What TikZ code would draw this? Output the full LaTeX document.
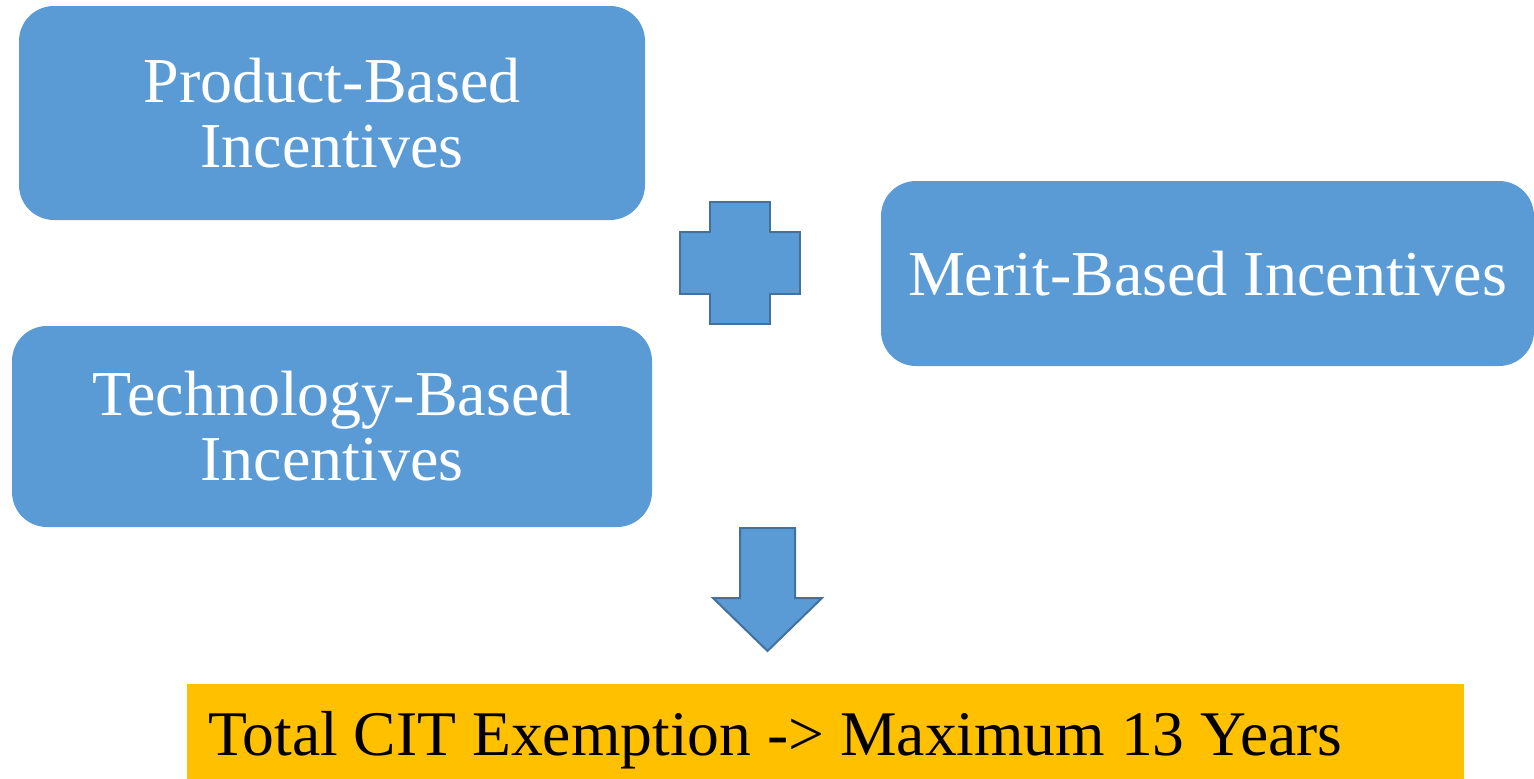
\documentclass[tikz,border=0pt]{standalone}
\usepackage{fontspec}
\setmainfont{Liberation Serif}
\definecolor{boxblue}{HTML}{5B9BD5}
\definecolor{edgeblue}{HTML}{41719C}
\definecolor{gold}{HTML}{FFC000}
\begin{document}
\begin{tikzpicture}[x=1pt,y=-1pt,
  incbox/.style={rectangle, rounded corners=35pt, fill=boxblue, draw=none,
    text=white, align=center, inner sep=0pt,
    font=\fontsize{64}{65}\selectfont},
  shapeblue/.style={fill=boxblue, draw=edgeblue, line width=2pt, line join=miter}]
\useasboundingbox (0,0) rectangle (1534,779);

% incentive boxes
\node[incbox, minimum width=626pt, minimum height=214pt] (product) at (332,113)
  {Product-Based\\Incentives};
\node[incbox, minimum width=640pt, minimum height=201pt] (tech) at (332,426.5)
  {Technology-Based\\Incentives};
\node[incbox, minimum width=653pt, minimum height=185pt] (merit) at (1207.5,273.5)
  {Merit-Based Incentives};

% plus sign
\draw[shapeblue] (710,202) -- (770,202) -- (770,232) -- (800,232) -- (800,294)
  -- (770,294) -- (770,324) -- (710,324) -- (710,294) -- (680,294)
  -- (680,232) -- (710,232) -- cycle;

% down arrow
\draw[shapeblue] (740,528) -- (795,528) -- (795,598) -- (822,598) -- (767.5,651)
  -- (713,598) -- (740,598) -- cycle;

% result bar
\node[rectangle, fill=gold, draw=none, minimum width=1277pt, minimum height=95pt,
  inner sep=0pt] (total) at (825.5,731.5) {};
\node[anchor=base west, inner sep=0pt, font=\fontsize{63.6}{66}\selectfont] (totaltext)
  at (208,755) {Total CIT Exemption -> Maximum 13 Years};
\end{tikzpicture}
\end{document}
